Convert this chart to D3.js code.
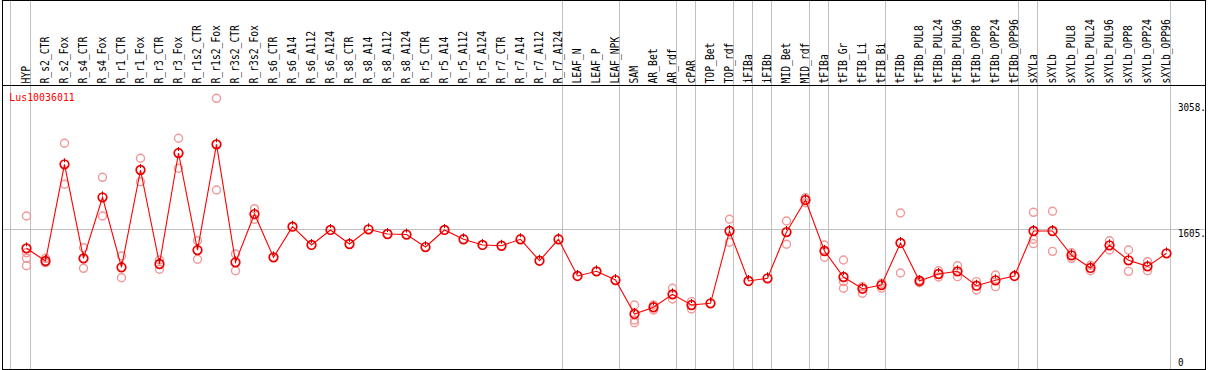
<!DOCTYPE html>
<html>
<head>
<meta charset="utf-8">
<script src="https://cdn.jsdelivr.net/npm/d3@7/dist/d3.min.js"></script>
<style>
  body { margin: 0; background: #fff; }
  svg { display: block; }
  text { font-family: "DejaVu Sans Mono", monospace; }
</style>
</head>
<body>
<svg width="1209" height="370"></svg>
<script>
// tissue columns, in drawing order
const samples = ["HYP", "R_s2_CTR", "R_s2_Fox", "R_s4_CTR", "R_s4_Fox", "R_r1_CTR", "R_r1_Fox",
  "R_r3_CTR", "R_r3_Fox", "R_r1s2_CTR", "R_r1s2_Fox", "R_r3s2_CTR", "R_r3s2_Fox", "R_s6_CTR",
  "R_s6_A14", "R_s6_A112", "R_s6_A124", "R_s8_CTR", "R_s8_A14", "R_s8_A112", "R_s8_A124",
  "R_r5_CTR", "R_r5_A14", "R_r5_A112", "R_r5_A124", "R_r7_CTR", "R_r7_A14", "R_r7_A112",
  "R_r7_A124", "LEAF_N", "LEAF_P", "LEAF_NPK", "SAM", "AR_Bet", "AR_rdf", "cPAR", "TOP_Bet",
  "TOP_rdf", "iFIBa", "iFIBb", "MID_Bet", "MID_rdf", "tFIBa", "tFIB_Gr", "tFIB_Li", "tFIB_Bi",
  "tFIBb", "tFIBb_PUL8", "tFIBb_PUL24", "tFIBb_PUL96", "tFIBb_OPP8", "tFIBb_OPP24", "tFIBb_OPP96",
  "sXYLa", "sXYLb", "sXYLb_PUL8", "sXYLb_PUL24", "sXYLb_PUL96", "sXYLb_OPP8", "sXYLb_OPP24",
  "sXYLb_OPP96"];

// mean expression per column
const means = [1375, 1228, 2350, 1259, 1967, 1155, 2284, 1193, 2481, 1355, 2582, 1213, 1773, 1271,
  1626, 1414, 1588, 1425, 1596, 1541, 1535, 1390, 1588, 1480, 1414, 1405, 1480, 1231,
  1480, 1054, 1108, 1007, 613, 691, 841, 717, 737,
  1576, 996, 1027, 1564, 1936, 1344, 1042, 906, 949,
  1437, 996, 1077, 1108, 941, 1004, 1054,
  1576, 1576, 1294, 1147, 1410, 1236, 1166, 1317];

// individual replicates per column
const replicates = [
  [1750, 1324, 1259, 1173], [1259, 1208], [2594, 2118], [1382, 1143], [2199, 1750], [1286, 1034],
  [2420, 2148], [1239, 1132], [2652, 2304], [1463, 1248], [3116, 2052], [1309, 1115], [1835, 1712],
  [], [], [], [], [], [], [], [], [], [], [], [], [], [], [], [],
  [], [], [], [717, 543, 512], [717, 659], [911, 787], [756, 671], [],
  [1712, 1445], [], [], [1692, 1422], [1962, 1904], [1414, 1271], [1239, 988, 911], [930, 853], [969, 911],
  [1785, 1089], [1007, 976], [1115, 1042], [1173, 1046], [988, 891], [1065, 930], [],
  [1793, 1480, 1429], [1805, 1340], [1324, 1259], [1115, 1179], [1463, 1356], [1356, 1108], [1220, 1115], []
];

// columns followed by a grey separator
const separators = ["HYP", "R_r7_A124", "LEAF_NPK", "AR_rdf", "cPAR", "TOP_rdf", "iFIBa", "iFIBb",
  "MID_rdf", "tFIBa", "tFIB_Bi", "tFIBb_OPP96", "sXYLa", "sXYLb_OPP96"];

const yTicks = [0, 1605, 3058];
const gridValues = [1605];
const geneName = "Lus10036011";

const W = 1209, H = 370;
const svg = d3.select("svg");

const x = d3.scalePoint().domain(samples).range([26.5, 26.5 + 19 * (samples.length - 1)]);
const y = d3.scaleLinear().domain([0, 3058]).range([366.8, 103.3]);

// vertical grey lines
const vx = [x(samples[0]) - 16].concat(separators.map(s => x(s) + 4));
svg.selectAll(".vsep").data(vx).join("line")
  .attr("x1", d => d).attr("x2", d => d)
  .attr("y1", 0).attr("y2", H)
  .attr("stroke", "#c0c0c0").attr("stroke-width", 1);

// horizontal grid
svg.selectAll(".hgrid").data(gridValues).join("line")
  .attr("x1", 2).attr("x2", 1205)
  .attr("y1", d => Math.round(y(d)) + 0.5).attr("y2", d => Math.round(y(d)) + 0.5)
  .attr("stroke", "#c0c0c0").attr("stroke-width", 1);

// frame
svg.append("rect").attr("x", 2.5).attr("y", 0.5).attr("width", 1203).attr("height", 369)
  .attr("fill", "none").attr("stroke", "#000").attr("stroke-width", 1);
svg.append("line").attr("x1", 2).attr("x2", 1206).attr("y1", 85.5).attr("y2", 85.5)
  .attr("stroke", "#000").attr("stroke-width", 1);

// column labels
svg.selectAll(".col").data(samples).join("text")
  .attr("transform", d => `translate(${x(d) + 3.5},83.5) rotate(-90) scale(0.81,1)`)
  .attr("font-size", 12).attr("fill", "#000")
  .text(d => d);

// gene name
svg.append("text")
  .attr("transform", "translate(9.3,100.7) scale(0.9,1)")
  .attr("font-size", 11).attr("fill", "#ff0000")
  .text(geneName);

// y labels
svg.selectAll(".ylab").data(yTicks).join("text")
  .attr("transform", d => `translate(1178,${Math.min(y(d) + 8, 366)}) scale(0.88,1)`)
  .attr("font-size", 10.5).attr("fill", "#000")
  .text(d => d === 0 ? "0" : d + ".");

// replicate points
const reps = [];
samples.forEach((s, i) => replicates[i].forEach(v => reps.push({ s, v })));
svg.selectAll(".rep").data(reps).join("circle")
  .attr("cx", d => x(d.s)).attr("cy", d => y(d.v)).attr("r", 4)
  .attr("fill", "none").attr("stroke", "#f09898").attr("stroke-width", 1.4);

// mean line
const line = d3.line().x((d, i) => x(samples[i])).y(d => y(d));
svg.append("path").datum(means).attr("d", line)
  .attr("fill", "none").attr("stroke", "#ff0000").attr("stroke-width", 1.1);

// mean markers
const mk = svg.selectAll(".mean").data(means).join("g")
  .attr("transform", (d, i) => `translate(${x(samples[i])},${y(d)})`);
mk.append("circle").attr("r", 4.3)
  .attr("fill", "none").attr("stroke", "#ee0000").attr("stroke-width", 1.7);
mk.append("line").attr("x1", 0).attr("x2", 0).attr("y1", -6).attr("y2", -2)
  .attr("stroke", "#c00000").attr("stroke-width", 1);
</script>
</body>
</html>
